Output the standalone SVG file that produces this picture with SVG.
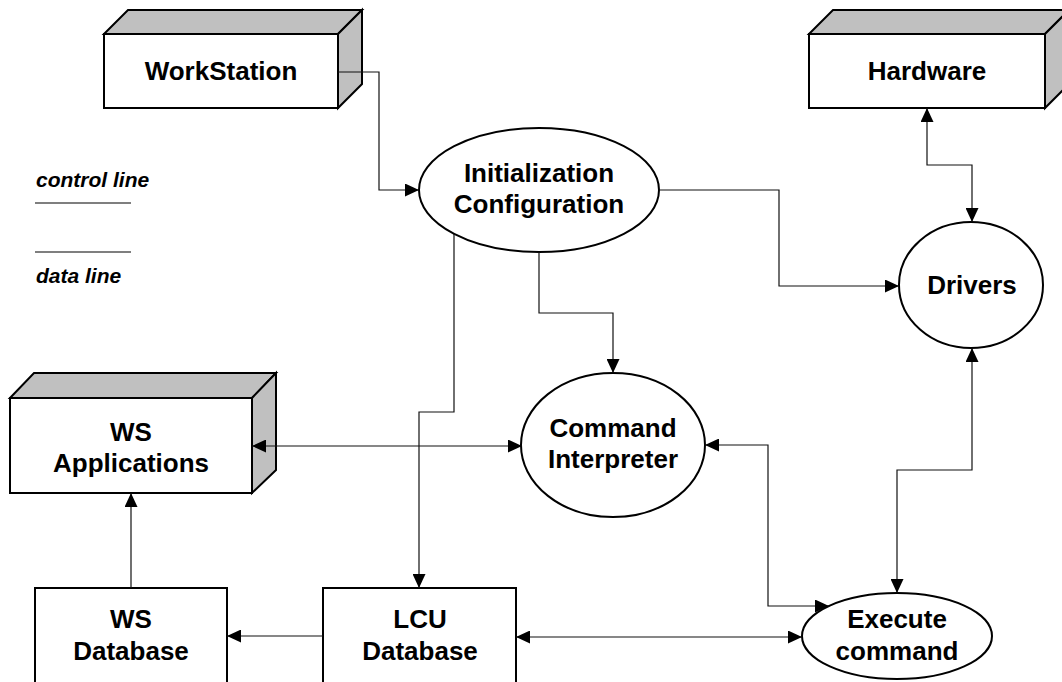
<svg xmlns="http://www.w3.org/2000/svg" width="1062" height="682" viewBox="0 0 1062 682">
<style>
.front{fill:#fff;stroke:#000;stroke-width:2}
.side{fill:#c0c0c0;stroke:#000;stroke-width:2;stroke-linejoin:miter}
.node{fill:#fff;stroke:#000;stroke-width:2}
.lbl{font-family:"Liberation Sans",Arial,sans-serif;font-weight:bold;font-size:26px;fill:#000;text-anchor:middle}
.leg{font-family:"Liberation Sans",Arial,sans-serif;font-weight:bold;font-style:italic;font-size:21px;fill:#000}
.c{fill:none;stroke:#111;stroke-width:1.2}
</style>
<defs>
<marker id="ah" markerUnits="userSpaceOnUse" markerWidth="14" markerHeight="13" refX="14" refY="6.5" orient="auto-start-reverse">
<path d="M0,0 L14,6.5 L0,13 z" fill="#000"/>
</marker>
</defs>
<rect width="1062" height="682" fill="#fff"/>

<g id="legend">
<text class="leg" x="36" y="187">control line</text>
<line x1="35" y1="203" x2="131" y2="203" stroke="#000" stroke-width="1.2"/>
<line x1="35" y1="252" x2="131" y2="252" stroke="#000" stroke-width="1.2"/>
<text class="leg" x="36" y="283">data line</text>
</g>

<g id="workstation">
<polygon class="side" points="104,34 128,10 362,10 338,34"/>
<polygon class="side" points="338,34 362,10 362,84 338,108"/>
<rect class="front" x="104" y="34" width="234" height="74"/>
<text class="lbl" x="221" y="80">WorkStation</text>
</g>

<g id="hardware">
<polygon class="side" points="809,34 833,10 1069,10 1045,34"/>
<polygon class="side" points="1045,34 1069,10 1069,84 1045,108"/>
<rect class="front" x="809" y="34" width="236" height="74"/>
<text class="lbl" x="927" y="80">Hardware</text>
</g>

<g id="ws-applications">
<polygon class="side" points="10,398 34,373 276,373 252,398"/>
<polygon class="side" points="252,398 276,373 276,470 252,493"/>
<rect class="front" x="10" y="398" width="242" height="95"/>
<text class="lbl" x="131" y="441">WS</text>
<text class="lbl" x="131" y="472">Applications</text>
</g>

<g id="init-config">
<ellipse class="node" cx="539" cy="190" rx="120" ry="62"/>
<text class="lbl" x="539" y="182">Initialization</text>
<text class="lbl" x="539" y="213">Configuration</text>
</g>

<g id="drivers">
<ellipse class="node" cx="971" cy="285" rx="72" ry="63"/>
<text class="lbl" x="972" y="294">Drivers</text>
</g>

<g id="command-interpreter">
<ellipse class="node" cx="613" cy="445" rx="92" ry="72"/>
<text class="lbl" x="613" y="437">Command</text>
<text class="lbl" x="613" y="468">Interpreter</text>
</g>

<g id="execute-command">
<ellipse class="node" cx="897" cy="636" rx="95" ry="43"/>
<text class="lbl" x="897" y="628">Execute</text>
<text class="lbl" x="897" y="660">command</text>
</g>

<g id="ws-database">
<rect class="front" x="35" y="588" width="192" height="120"/>
<text class="lbl" x="131" y="628">WS</text>
<text class="lbl" x="131" y="660">Database</text>
</g>

<g id="lcu-database">
<rect class="front" x="323" y="588" width="193" height="120"/>
<text class="lbl" x="420" y="628">LCU</text>
<text class="lbl" x="420" y="660">Database</text>
</g>

<g id="connectors">
<path class="c" d="M338,72 H379 V190 H419" marker-end="url(#ah)"/>
<path class="c" d="M659,190 H779 V286 H899" marker-end="url(#ah)"/>
<path class="c" d="M539,252 V313 H613 V373" marker-end="url(#ah)"/>
<path class="c" d="M454,234 V412 H419 V588" marker-end="url(#ah)"/>
<path class="c" d="M927,108 V165 H972 V222" marker-start="url(#ah)" marker-end="url(#ah)"/>
<path class="c" d="M972,348 V470 H897 V593" marker-start="url(#ah)" marker-end="url(#ah)"/>
<path class="c" d="M252,446 H522" marker-start="url(#ah)" marker-end="url(#ah)"/>
<path class="c" d="M705,445 H768 V606 H829" marker-start="url(#ah)" marker-end="url(#ah)"/>
<path class="c" d="M131,588 V493" marker-end="url(#ah)"/>
<path class="c" d="M323,636 H227" marker-end="url(#ah)"/>
<path class="c" d="M516,637 H802" marker-start="url(#ah)" marker-end="url(#ah)"/>
</g>
</svg>
